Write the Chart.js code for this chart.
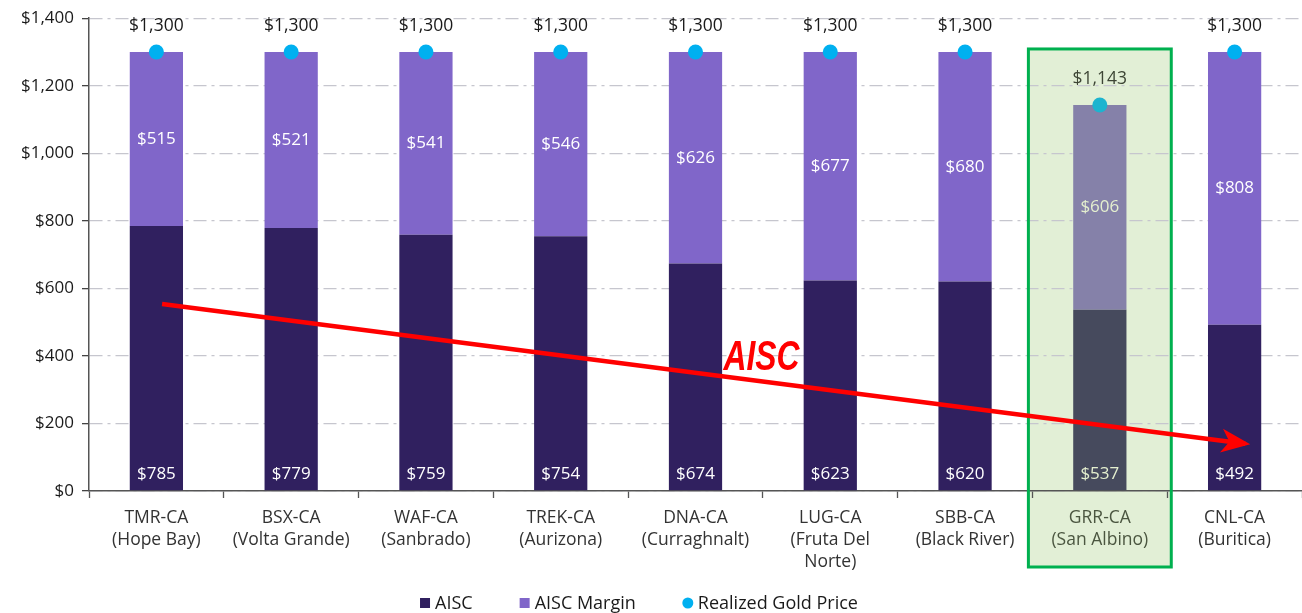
<!DOCTYPE html>
<html>
<head>
<meta charset="utf-8">
<script src="https://cdn.jsdelivr.net/npm/chart.js@4.4.0/dist/chart.umd.min.js"></script>
<style>
  html, body { margin: 0; padding: 0; background: #fff; overflow: hidden; }
  #wrap { width: 1302px; height: 613px; }
  canvas { display: block; }
</style>
</head>
<body>
<div id="wrap"><canvas id="chart"></canvas></div>
<script>
// data
const categories = [
  ['TMR-CA', '(Hope Bay)'],
  ['BSX-CA', '(Volta Grande)'],
  ['WAF-CA', '(Sanbrado)'],
  ['TREK-CA', '(Aurizona)'],
  ['DNA-CA', '(Curraghnalt)'],
  ['LUG-CA', '(Fruta Del', 'Norte)'],
  ['SBB-CA', '(Black River)'],
  ['GRR-CA', '(San Albino)'],
  ['CNL-CA', '(Buritica)']
];
const aiscValues = [785, 779, 759, 754, 674, 623, 620, 537, 492];
const marginValues = [515, 521, 541, 546, 626, 677, 680, 606, 808];
const goldPrice = [1300, 1300, 1300, 1300, 1300, 1300, 1300, 1143, 1300];
// hand-drawn AISC trend arrow (category index, $)
const aiscTrend = [{ x: 0.042, y: 554 }, { x: 8.079, y: 140 }];
const trendLabel = { x: 4.49, y: 398, text: 'AISC' };
const highlightIndex = 7; // GRR-CA

const FONT = "'Open Sans', sans-serif";
const money = v => '$' + v.toLocaleString('en-US');
const pick = (normal, hl) => categories.map((c, i) => i === highlightIndex ? hl : normal);

/**
 * Green box behind the highlighted company
 */
const highlightPlugin = {
  id: 'highlight',
  boxRect(chart) {
    const x = chart.scales.x, y = chart.scales.y;
    const half = (x.getPixelForValue(1) - x.getPixelForValue(0)) * 0.53;
    const cx = x.getPixelForValue(highlightIndex);
    const top = y.getPixelForValue(Math.max(...goldPrice)) - 3;
    const bottom = chart.chartArea.bottom + 76;
    return { left: cx - half, top, width: half * 2, height: bottom - top };
  },
  beforeDraw(chart) {
    const r = this.boxRect(chart);
    const ctx = chart.ctx;
    ctx.save();
    ctx.fillStyle = '#e2efd6';
    ctx.fillRect(r.left, r.top, r.width, r.height);
    ctx.restore();
  },
  beforeDatasetsDraw(chart) {
    const r = this.boxRect(chart);
    const ctx = chart.ctx;
    ctx.save();
    ctx.strokeStyle = '#00b04f';
    ctx.lineWidth = 3;
    ctx.strokeRect(r.left, r.top, r.width, r.height);
    ctx.restore();
  }
};

/**
 * Value labels, arrow head and the AISC tag
 */
const labelPlugin = {
  id: 'labels',
  afterDatasetsDraw(chart) {
    const ctx = chart.ctx;
    const aisc = chart.getDatasetMeta(0).data;
    const margin = chart.getDatasetMeta(1).data;
    const pts = chart.getDatasetMeta(2).data;
    ctx.save();
    ctx.textAlign = 'center';
    ctx.textBaseline = 'middle';
    aisc.forEach((bar, i) => {
      const hl = i === highlightIndex;
      ctx.font = `500 17px ${FONT}`;
      ctx.fillStyle = hl ? '#e4efcf' : '#ffffff';
      ctx.fillText(money(aiscValues[i]), bar.x, bar.base - 16);
      const m = margin[i];
      ctx.fillText(money(marginValues[i]), m.x, (m.y + m.base) / 2);
      ctx.font = `17.5px ${FONT}`;
      ctx.fillStyle = hl ? '#3d4535' : '#1a1a1a';
      ctx.fillText(money(goldPrice[i]), pts[i].x, pts[i].y - 26);
    });

    // arrow head
    const line = chart.getDatasetMeta(3).data;
    const p0 = line[0], p1 = line[line.length - 1];
    const ang = Math.atan2(p1.y - p0.y, p1.x - p0.x);
    ctx.translate(p1.x, p1.y);
    ctx.rotate(ang);
    ctx.fillStyle = '#ff0000';
    ctx.beginPath();
    ctx.moveTo(5, 0);
    ctx.lineTo(-24, -12);
    ctx.lineTo(-16, 0);
    ctx.lineTo(-24, 12);
    ctx.closePath();
    ctx.fill();
    ctx.setTransform(1, 0, 0, 1, 0, 0);

    // AISC tag
    const lx = chart.scales.xt.getPixelForValue(trendLabel.x);
    const ly = chart.scales.y.getPixelForValue(trendLabel.y);
    ctx.translate(lx, ly);
    ctx.scale(0.74, 1);
    ctx.font = "italic bold 43px 'Liberation Sans', sans-serif";
    ctx.fillStyle = '#ff0000';
    ctx.fillText(trendLabel.text, 0, 2);
    ctx.restore();
  }
};

/**
 * Legend row under the axis labels
 */
const legendPlugin = {
  id: 'bottomLegend',
  afterDraw(chart) {
    const ctx = chart.ctx;
    const ds = chart.data.datasets;
    const items = [
      { text: ds[0].label, color: ds[0].backgroundColor[0], circle: false },
      { text: ds[1].label, color: ds[1].backgroundColor[0], circle: false },
      { text: ds[2].label, color: ds[2].pointBackgroundColor[0], circle: true }
    ];
    ctx.save();
    ctx.font = `18px ${FONT}`;
    ctx.textBaseline = 'middle';
    const box = 10, gap = 5, spacing = 47;
    const widths = items.map(it => box + gap + ctx.measureText(it.text).width);
    const total = widths.reduce((a, b) => a + b, 0) + spacing * (items.length - 1);
    let x = (chart.width - total) / 2 - 12;
    const y = 604;
    items.forEach((it, i) => {
      ctx.fillStyle = it.color;
      if (it.circle) {
        ctx.beginPath();
        ctx.arc(x + box / 2, y - 1, 5.5, 0, Math.PI * 2);
        ctx.fill();
      } else {
        ctx.fillRect(x, y - 6, box, box);
      }
      ctx.fillStyle = '#1a1a1a';
      ctx.fillText(it.text, x + box + gap, y);
      x += widths[i] + spacing;
    });
    ctx.restore();
  }
};

const ctx = document.getElementById('chart').getContext('2d');
new Chart(ctx, {
  data: {
    labels: categories,
    datasets: [
      {
        type: 'bar',
        label: 'AISC',
        data: aiscValues,
        backgroundColor: pick('#30205f', '#464a5d'),
        stack: 'cost',
        grouped: false,
        order: 3
      },
      {
        type: 'bar',
        label: 'AISC Margin',
        data: marginValues,
        backgroundColor: pick('#8066c9', '#8581a9'),
        stack: 'cost',
        grouped: false,
        order: 3
      },
      {
        type: 'line',
        label: 'Realized Gold Price',
        data: goldPrice,
        showLine: false,
        pointRadius: 7.5,
        pointHoverRadius: 7.5,
        pointBorderWidth: 0,
        pointBackgroundColor: pick('#00b0f0', '#1db4cf'),
        stack: 'price',
        order: 1
      },
      {
        type: 'line',
        label: 'AISC trend',
        data: aiscTrend,
        xAxisID: 'xt',
        borderColor: '#ff0000',
        borderWidth: 4.5,
        borderCapStyle: 'butt',
        pointRadius: 0,
        stack: 'trend',
        order: 0
      }
    ]
  },
  options: {
    responsive: true,
    maintainAspectRatio: false,
    animation: false,
    layout: { autoPadding: false, padding: { top: 16, right: 0, bottom: 32, left: 0 } },
    plugins: {
      legend: { display: false },
      tooltip: { enabled: false }
    },
    datasets: {
      bar: { categoryPercentage: 1, barPercentage: 0.395 }
    },
    scales: {
      x: {
        stacked: true,
        offset: true,
        grid: {
          drawOnChartArea: false,
          drawTicks: true,
          tickLength: 7,
          tickColor: '#555',
          tickWidth: 1.3,
          offset: true
        },
        border: { color: '#555', width: 1.5 },
        ticks: {
          font: { family: FONT, size: 17.5, lineHeight: 1.26 },
          color: c => c.index === highlightIndex ? '#4b5640' : '#333',
          padding: 9,
          maxRotation: 0,
          autoSkip: false
        },
        afterFit: s => {
          s.height = 90;
          s.paddingLeft = 0;
          s.paddingRight = 0;
        }
      },
      xt: {
        type: 'linear',
        display: false,
        min: -0.5,
        max: 8.5
      },
      y: {
        stacked: true,
        min: 0,
        max: 1400,
        ticks: {
          stepSize: 200,
          callback: v => money(v),
          font: { family: FONT, size: 17 },
          color: '#1a1a1a',
          padding: 8
        },
        grid: {
          color: '#c6c6ce',
          lineWidth: 1.3,
          tickColor: '#444',
          tickLength: 7,
          tickWidth: 1.3,
          tickBorderDash: []
        },
        border: { color: '#555', width: 1.5, dash: [13, 5, 3, 5] },
        afterFit: s => { s.width = 89; }
      }
    }
  },
  plugins: [highlightPlugin, labelPlugin, legendPlugin]
});
</script>
</body>
</html>
